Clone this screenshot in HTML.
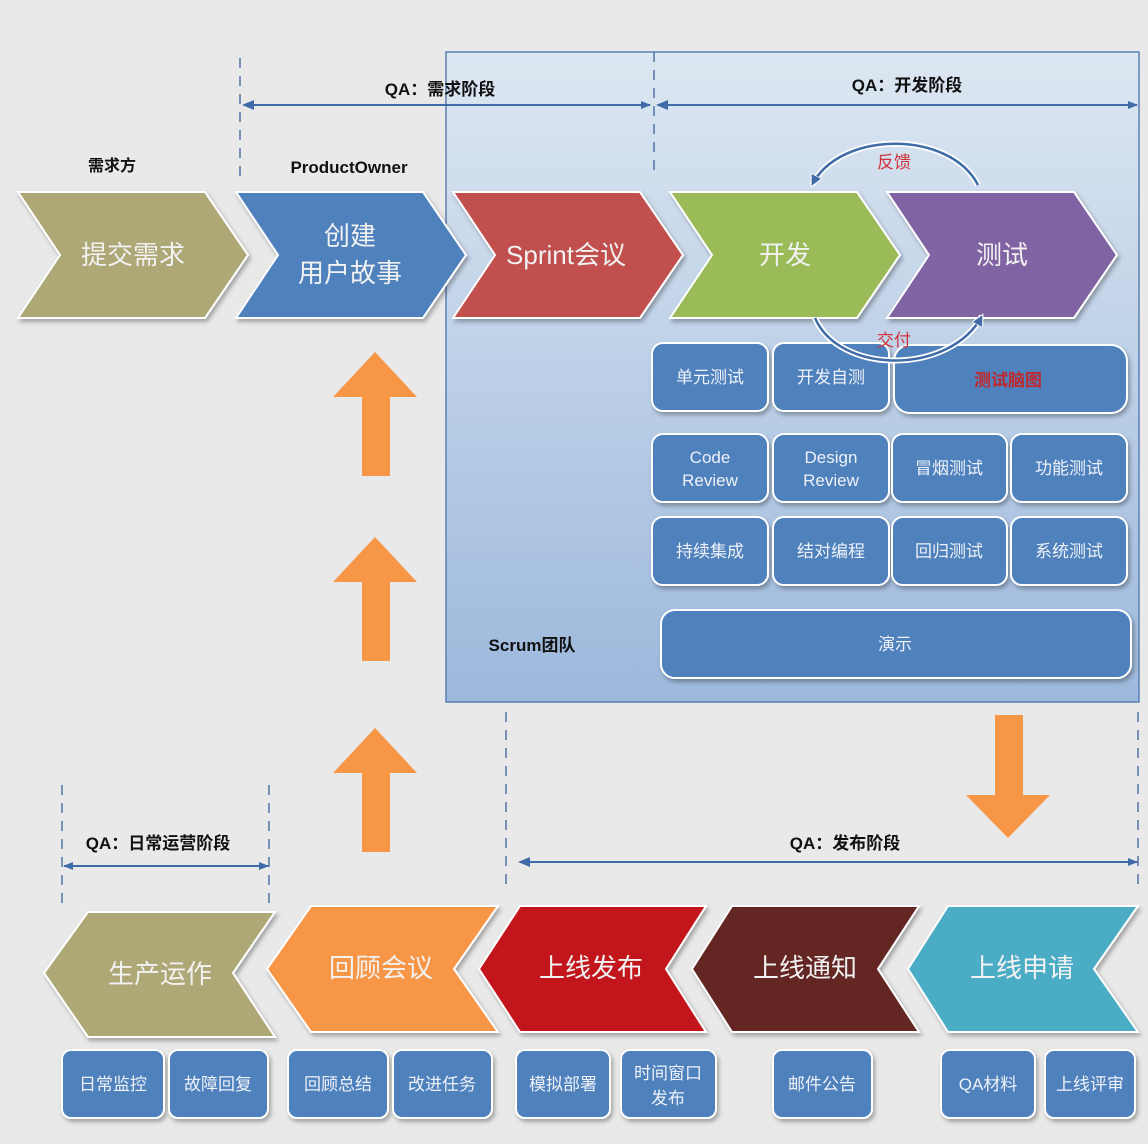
<!DOCTYPE html>
<html><head><meta charset="utf-8"><style>
html,body{margin:0;padding:0;background:#e9e9e9}
svg{display:block}
text{font-family:"Liberation Sans","Noto Sans CJK SC",sans-serif}
</style></head><body>
<svg width="1148" height="1144" viewBox="0 0 1148 1144" xmlns="http://www.w3.org/2000/svg">
<defs>
<linearGradient id="bg" x1="0" y1="0" x2="0" y2="1"><stop offset="0" stop-color="#dde7f2"/><stop offset="1" stop-color="#9cb8dc"/></linearGradient>
<marker id="ah" markerWidth="10" markerHeight="8" refX="9" refY="4" orient="auto" markerUnits="userSpaceOnUse"><path d="M0,0 L10,4 L0,8 Z" fill="#3f6ca8"/></marker>
<marker id="ah2" markerWidth="14" markerHeight="12" refX="10" refY="6" orient="auto" markerUnits="userSpaceOnUse"><path d="M0,0 L12,6 L0,12 Z" fill="#3f6ca8" stroke="#fff" stroke-width="1"/></marker>
<filter id="sh" x="-10%" y="-10%" width="130%" height="130%"><feDropShadow dx="2" dy="3" stdDeviation="2" flood-color="#000" flood-opacity="0.3"/></filter>
</defs>
<rect width="1148" height="1144" fill="#e9e9e9"/>
<rect x="446" y="52" width="693" height="650" fill="url(#bg)" stroke="#5b80b4" stroke-width="1.5"/>

<g stroke="#4f74a8" stroke-width="1.5" stroke-dasharray="10,8" fill="none">
<line x1="240" y1="58" x2="240" y2="180"/>
<line x1="654" y1="52" x2="654" y2="175"/>
<line x1="506" y1="712" x2="506" y2="888"/>
<line x1="1138" y1="712" x2="1138" y2="888"/>
<line x1="62" y1="785" x2="62" y2="905"/>
<line x1="269" y1="785" x2="269" y2="905"/>
</g>
<g stroke="#3f6ca8" stroke-width="2" fill="none">
<line x1="244" y1="105" x2="650" y2="105" marker-end="url(#ah)" marker-start="url(#ahs)"/>
<line x1="658" y1="105" x2="1137" y2="105" marker-end="url(#ah)"/>
<line x1="520" y1="862" x2="1137" y2="862" marker-end="url(#ah)"/>
<line x1="64" y1="866" x2="268" y2="866" marker-end="url(#ah)"/>
</g>
<path d="M242,105 l12,-5 v10z M656,105 l12,-5 v10z M518,862 l12,-5 v10z M63,866 l10,-4 v8z" fill="#3f6ca8"/>

<g font-weight="bold" font-size="17" fill="#111" text-anchor="middle">
<text x="440" y="95">QA：需求阶段</text>
<text x="907" y="91">QA：开发阶段</text>
<text x="845" y="849">QA：发布阶段</text>
<text x="158" y="849">QA：日常运营阶段</text>
<text x="112" y="171" font-size="16">需求方</text>
<text x="349" y="173" font-size="17">ProductOwner</text>
<text x="532" y="651" font-size="17">Scrum团队</text>
</g>

<g filter="url(#sh)" stroke="#fff" stroke-width="2">
<polygon points="18,192 205,192 248,255 205,318 18,318 60,255" fill="#ada874"/>
<polygon points="236,192 423,192 466,255 423,318 236,318 278,255" fill="#4f81bd"/>
<polygon points="453,192 640,192 683,255 640,318 453,318 495,255" fill="#c0504d"/>
<polygon points="670,192 857,192 900,255 857,318 670,318 712,255" fill="#9bbb59"/>
<polygon points="887,192 1074,192 1117,255 1074,318 887,318 929,255" fill="#8064a2"/>
</g>
<g fill="#f2f2f2" font-size="26" text-anchor="middle">
<text x="133" y="264">提交需求</text>
<text x="350" y="245">创建</text>
<text x="350" y="282">用户故事</text>
<text x="566" y="264">Sprint会议</text>
<text x="785" y="264">开发</text>
<text x="1002" y="264">测试</text>
</g>

<g filter="url(#sh)" stroke="#fff" stroke-width="2" fill="#4f81bd">
<rect x="652" y="343" width="116" height="68" rx="11"/>
<rect x="773" y="343" width="116" height="68" rx="11"/>
<rect x="894" y="345" width="233" height="68" rx="16"/>
<rect x="652" y="434" width="116" height="68" rx="11"/>
<rect x="773" y="434" width="116" height="68" rx="11"/>
<rect x="892" y="434" width="115" height="68" rx="11"/>
<rect x="1011" y="434" width="116" height="68" rx="11"/>
<rect x="652" y="517" width="116" height="68" rx="11"/>
<rect x="773" y="517" width="116" height="68" rx="11"/>
<rect x="892" y="517" width="115" height="68" rx="11"/>
<rect x="1011" y="517" width="116" height="68" rx="11"/>
<rect x="661" y="610" width="470" height="68" rx="14"/>
</g>
<g fill="#eef2f8" font-size="17" text-anchor="middle">
<text x="710" y="383">单元测试</text>
<text x="831" y="383">开发自测</text>
<text x="1008" y="386" fill="#c0282d" font-weight="bold">测试脑图</text>
<text x="710" y="463">Code</text><text x="710" y="486">Review</text>
<text x="831" y="463">Design</text><text x="831" y="486">Review</text>
<text x="949" y="474">冒烟测试</text>
<text x="1069" y="474">功能测试</text>
<text x="710" y="557">持续集成</text>
<text x="831" y="557">结对编程</text>
<text x="949" y="557">回归测试</text>
<text x="1069" y="557">系统测试</text>
<text x="895" y="650">演示</text>
</g>

<g fill="none">
<path d="M978,185 C950,130 840,130 812,185" stroke="#fff" stroke-width="6"/>
<path d="M978,185 C950,130 840,130 812,185" stroke="#3f6ca8" stroke-width="2.5" marker-end="url(#ah2)"/>
<path d="M815,318 C840,375 950,375 982,316" stroke="#fff" stroke-width="6"/>
<path d="M815,318 C840,375 950,375 982,316" stroke="#3f6ca8" stroke-width="2.5" marker-end="url(#ah2)"/>
</g>
<text x="894" y="168" fill="#d0343a" font-size="17" text-anchor="middle">反馈</text>
<text x="894" y="346" fill="#d0343a" font-size="17" text-anchor="middle">交付</text>

<g fill="#f79646">
<polygon points="375,352 417,397 390,397 390,476 362,476 362,397 333,397"/>
<polygon points="375,537 417,582 390,582 390,661 362,661 362,582 333,582"/>
<polygon points="375,728 417,773 390,773 390,852 362,852 362,773 333,773"/>
<polygon points="1008,838 1050,795 1023,795 1023,715 995,715 995,795 966,795"/>
</g>

<g filter="url(#sh)" stroke="#fff" stroke-width="2">
<polygon points="44,973 88,912 275,912 233,973 275,1037 88,1037" fill="#ada874"/>
<polygon points="267,969 311,906 498,906 454,969 498,1032 311,1032" fill="#f79646"/>
<polygon points="479,969 520,906 706,906 666,969 706,1032 520,1032" fill="#c3131a"/>
<polygon points="692,969 732,906 919,906 878,969 919,1032 732,1032" fill="#632523"/>
<polygon points="908,969 948,906 1138,906 1094,969 1138,1032 948,1032" fill="#4bacc6"/>
</g>
<g fill="#f2f2f2" font-size="26" text-anchor="middle">
<text x="160" y="983">生产运作</text>
<text x="381" y="977">回顾会议</text>
<text x="591" y="977">上线发布</text>
<text x="805" y="977">上线通知</text>
<text x="1022" y="977">上线申请</text>
</g>
<g filter="url(#sh)" stroke="#fff" stroke-width="2" fill="#4f81bd">
<rect x="62" y="1050" width="102" height="68" rx="9"/>
<rect x="169" y="1050" width="99" height="68" rx="9"/>
<rect x="288" y="1050" width="100" height="68" rx="9"/>
<rect x="393" y="1050" width="99" height="68" rx="9"/>
<rect x="516" y="1050" width="94" height="68" rx="9"/>
<rect x="621" y="1050" width="95" height="68" rx="9"/>
<rect x="773" y="1050" width="99" height="68" rx="9"/>
<rect x="941" y="1050" width="94" height="68" rx="9"/>
<rect x="1045" y="1050" width="90" height="68" rx="9"/>
</g>
<g fill="#eef2f8" font-size="17" text-anchor="middle">
<text x="113" y="1090">日常监控</text>
<text x="218" y="1090">故障回复</text>
<text x="338" y="1090">回顾总结</text>
<text x="442" y="1090">改进任务</text>
<text x="563" y="1090">模拟部署</text>
<text x="668" y="1079">时间窗口</text>
<text x="668" y="1104">发布</text>
<text x="822" y="1090">邮件公告</text>
<text x="988" y="1090">QA材料</text>
<text x="1090" y="1090">上线评审</text>
</g>
</svg>
</body></html>
